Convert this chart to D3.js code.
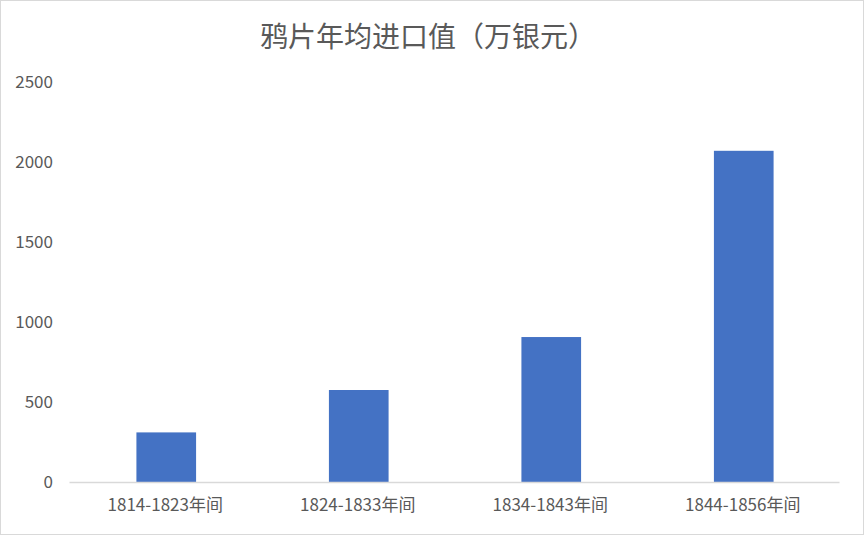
<!DOCTYPE html>
<html>
<head>
<meta charset="utf-8">
<script src="https://cdn.jsdelivr.net/npm/d3@7"></script>
<style>
    body { margin: 0; background: #fff; }
    text { font-family: "Noto Sans CJK SC", "Noto Sans", sans-serif; fill: #595959; }
</style>
</head>
<body>
<div class="chart"></div>
<script>
// Chart data
const periods = ['1814-1823年间', '1824-1833年间', '1834-1843年间', '1844-1856年间'];
const values = [310, 575, 906, 2070];
const yTicks = [0, 500, 1000, 1500, 2000, 2500];
const title = '鸦片年均进口值（万银元）';

const W = 864, H = 535;
const margin = {top: 82, right: 25, bottom: 53, left: 69},
    width = W - margin.left - margin.right,
    height = H - margin.top - margin.bottom;

const svg = d3.select('.chart')
    .append('svg')
        .attr('width', W)
        .attr('height', H);

// Outer border
svg.append('rect')
    .attr('x', 0.5).attr('y', 0.5)
    .attr('width', W - 1).attr('height', H - 1)
    .attr('fill', '#fff')
    .attr('stroke', '#d9d9d9');

const g = svg.append('g')
    .attr('transform', `translate(${margin.left},${margin.top})`);

// Scales
const x = d3.scaleBand()
    .domain(periods)
    .range([0, width])
    .paddingInner(0.69)
    .paddingOuter(0.345);
const y = d3.scaleLinear()
    .domain([0, 2500])
    .range([height, 0]);

// Bars
g.selectAll('rect.bar')
    .data(values)
    .enter()
        .append('rect')
        .attr('class', 'bar')
        .attr('x', (d, i) => x(periods[i]) + 1)
        .attr('y', d => y(d))
        .attr('width', x.bandwidth())
        .attr('height', d => height - y(d))
        .attr('fill', '#4472c4');

// Y axis (labels only)
const yAxis = g.append('g')
    .call(d3.axisLeft(y).tickValues(yTicks).tickFormat(d3.format('d')).tickSize(0).tickPadding(16));
yAxis.select('.domain').remove();
yAxis.selectAll('text')
    .style('font-size', '17px')
    .attr('fill', '#595959');

// X axis
const xAxis = g.append('g')
    .attr('transform', `translate(0,${height})`)
    .call(d3.axisBottom(x.copy().paddingInner(0).paddingOuter(0)).tickSize(0).tickPadding(17));
xAxis.select('.domain').attr('stroke', '#d9d9d9').attr('stroke-width', 1.3);
xAxis.selectAll('text')
    .style('font-size', '17px')
    .attr('fill', '#595959');

// Title
svg.append('text')
    .attr('x', 428)
    .attr('y', 47)
    .attr('text-anchor', 'middle')
    .style('font-size', '28px')
    .text(title);
</script>
</body>
</html>
